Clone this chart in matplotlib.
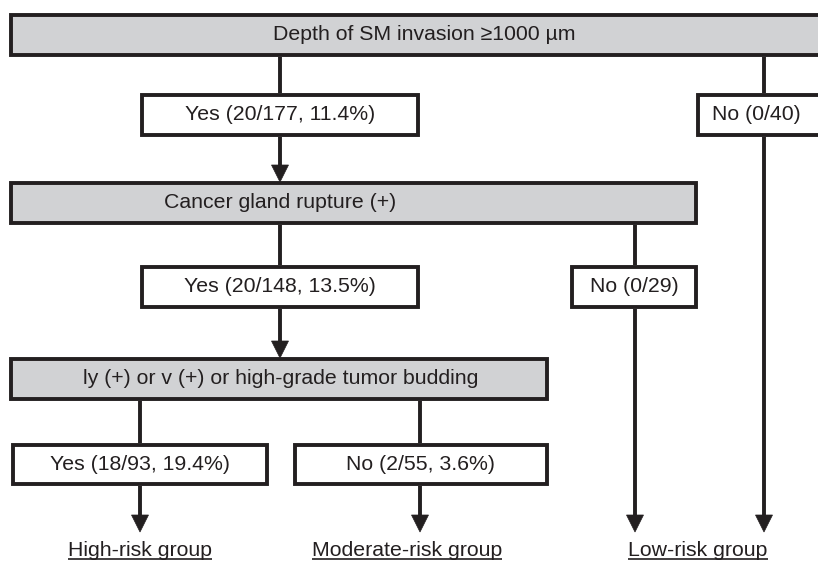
import matplotlib
matplotlib.use("Agg")
import matplotlib.pyplot as plt
from matplotlib import font_manager
from matplotlib.patches import Rectangle, Polygon

# ---------------- data ----------------
questions = ["Depth of SM invasion \u22651000 \u00b5m",
             "Cancer gland rupture (+)",
             "ly (+) or v (+) or high-grade tumor budding"]
yes_events = [20, 20, 18]
yes_totals = [177, 148, 93]
yes_pct = [11.4, 13.5, 19.4]
no_events = [0, 0, 2]
no_totals = [40, 29, 55]
no_pct = [None, None, 3.6]
groups = ["High-risk group", "Moderate-risk group", "Low-risk group"]

# ---------------- style ----------------
family = "Liberation Sans"
for cand in ["Liberation Sans Narrow", "Liberation Sans"]:
    try:
        font_manager.findfont(cand, fallback_to_default=False)
        family = cand
        break
    except Exception:
        pass
plt.rcParams['font.family'] = [family, 'DejaVu Sans']

EDGE = "#231f20"
GREY = "#d1d2d4"
LW = 2.8
FS = 15.3

fig = plt.figure(figsize=(8.18, 5.62), dpi=100)
ax = fig.add_axes([0, 0, 1, 1])
ax.set_xlim(0, 818)
ax.set_ylim(562, 0)
ax.axis("off")


def box(x0, y0, x1, y1, fill):
    h = LW * 100 / 72 / 2
    ax.add_patch(Rectangle((x0 + h, y0 + h), x1 - x0 - 2 * h, y1 - y0 - 2 * h,
                           facecolor=fill, edgecolor=EDGE, linewidth=LW,
                           zorder=2, clip_on=True, joinstyle="miter"))


def label(x, y, s):
    ax.text(x, y, s, ha="center", va="center", fontsize=FS, color=EDGE, zorder=3)


def line(x, y0, y1):
    ax.plot([x, x], [y0, y1], color=EDGE, lw=LW, zorder=1, solid_capstyle="butt")


def arrow(x, y0, y1, w=17, hh=17):
    ax.plot([x, x], [y0, y1 - hh + 1], color=EDGE, lw=LW, zorder=1, solid_capstyle="butt")
    ax.add_patch(Polygon([(x - w / 2, y1 - hh), (x + w / 2, y1 - hh), (x, y1)],
                         closed=True, facecolor=EDGE, edgecolor=EDGE, lw=0.5, zorder=2))


def yes_text(i):
    return f"Yes ({yes_events[i]}/{yes_totals[i]}, {yes_pct[i]}%)"


def no_text(i):
    if no_pct[i] is None:
        return f"No ({no_events[i]}/{no_totals[i]})"
    return f"No ({no_events[i]}/{no_totals[i]}, {no_pct[i]}%)"


# level 1
box(9, 13, 840, 57, GREY)
label(424, 35, questions[0])
line(280, 57, 93)
line(764, 57, 93)
box(140, 93, 420, 137, "white")
label(280, 115, yes_text(0))
box(696, 93, 840, 137, "white")
label(756, 115, no_text(0))
arrow(280, 137, 182)
arrow(764, 137, 532)

# level 2
box(9, 181, 698, 225, GREY)
label(280, 203, questions[1])
line(280, 225, 265)
line(635, 225, 265)
box(140, 265, 420, 309, "white")
label(280, 287, yes_text(1))
box(570, 265, 698, 309, "white")
label(634, 287, no_text(1))
arrow(280, 309, 358)
arrow(635, 309, 532)

# level 3
box(9, 357, 549, 401, GREY)
label(281, 379, questions[2])
line(140, 401, 443)
line(420, 401, 443)
box(11, 443, 269, 486, "white")
label(140, 464, yes_text(2))
box(293, 443, 549, 486, "white")
label(421, 464, no_text(2))
arrow(140, 486, 532)
arrow(420, 486, 532)

# group labels (underlined)
gx = [140, 407, 698]
texts = []
for x, g in zip(gx, groups):
    t = ax.text(x, 551, g, ha="center", va="center", fontsize=FS, color=EDGE)
    texts.append(t)
fig.canvas.draw()
inv = ax.transData.inverted()
for t in texts:
    bb = t.get_window_extent()
    (x0, yb), (x1, yt) = inv.transform([(bb.x0, bb.y0), (bb.x1, bb.y1)])
    ax.plot([x0, x1], [yb - 2, yb - 2], color=EDGE, lw=1.2, solid_capstyle="butt")

fig.savefig("out.png", dpi=100)
